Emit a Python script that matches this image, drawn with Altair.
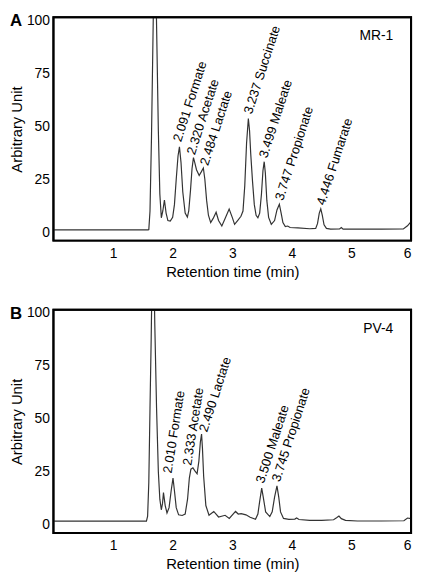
import altair as alt
import pandas as pd

FONT = "Liberation Sans"

# ---- Panel A (MR-1) trace ----
a_time = [0.00, 1.59, 1.60, 1.62, 1.645, 1.67, 1.70, 1.73, 1.76, 1.785, 1.81, 1.835, 1.862, 1.89, 1.92,
          1.96, 2.00, 2.03, 2.06, 2.09, 2.114, 2.14, 2.17, 2.21, 2.247, 2.27, 2.30, 2.325, 2.349, 2.37,
          2.40, 2.445, 2.48, 2.515, 2.54, 2.57, 2.60, 2.638, 2.68, 2.729, 2.77, 2.825, 2.88, 2.948, 3.00,
          3.039, 3.09, 3.146, 3.18, 3.21, 3.24, 3.27, 3.29, 3.31, 3.34, 3.37, 3.40, 3.43, 3.46, 3.49,
          3.515, 3.536, 3.555, 3.58, 3.61, 3.655, 3.71, 3.75, 3.79, 3.82, 3.85, 3.89, 3.93, 3.97, 4.10,
          4.30, 4.40, 4.43, 4.46, 4.485, 4.51, 4.54, 4.58, 4.65, 4.80, 4.83, 4.86, 5.50, 5.87, 5.94, 6.00]
a_signal = [1.1, 1.1, 1.2, 10, 45, 92, 150, 98, 48, 18, 6.8, 10, 15.2, 9, 5.5,
            5.2, 7, 13, 25, 36, 40.3, 33, 19, 9, 7.1, 10, 20, 30, 35.2, 33,
            29.5, 26.8, 28.5, 30.3, 25, 15, 8, 4.5, 6.5, 9.4, 5.5, 2.9, 6.5, 10.9, 7,
            3.7, 5.5, 7.5, 10, 22, 42, 53.7, 48, 37, 24, 13, 8, 6.8, 9, 18,
            29, 33.3, 28, 15, 7, 3.7, 5.5, 10.5, 13.2, 9, 4.5, 2.6, 2.9, 2.2, 2.0,
            1.6, 1.8, 4, 9, 11, 8, 3.5, 1.8, 1.4, 1.5, 2.2, 1.4, 1.4, 1.5, 3.0, 5.0]

a_labels = ["2.091 Formate", "2.320 Acetate", "2.484 Lactate", "3.237 Succinate",
            "3.499 Maleate", "3.747 Propionate", "4.446 Fumarate"]
a_label_time = [2.076, 2.306, 2.531, 3.264, 3.52, 3.788, 4.484]
a_label_height = [43, 36.8, 31.7, 56.0, 35.3, 15.2, 12.9]

# ---- Panel B (PV-4) trace ----
b_time = [0.00, 1.56, 1.58, 1.60, 1.62, 1.64, 1.67, 1.70, 1.73, 1.76, 1.785, 1.81, 1.83, 1.846, 1.875,
          1.905, 1.94, 1.975, 2.006, 2.03, 2.06, 2.10, 2.16, 2.21, 2.25, 2.28, 2.306, 2.34, 2.37, 2.41,
          2.44, 2.465, 2.485, 2.50, 2.52, 2.557, 2.61, 2.69, 2.77, 2.88, 2.95, 3.055, 3.10, 3.15, 3.23,
          3.30, 3.39, 3.43, 3.46, 3.494, 3.52, 3.56, 3.63, 3.67, 3.71, 3.75, 3.78, 3.81, 3.86, 3.95,
          4.05, 4.08, 4.12, 4.30, 4.50, 4.70, 4.75, 4.79, 4.83, 4.90, 5.10, 5.50, 5.88, 5.94, 6.00]
b_signal = [1.6, 1.6, 4, 20, 55, 88, 150, 95, 55, 25, 12, 7, 10, 15.1, 9,
            5.5, 8, 16, 22, 16, 8, 4.6, 4.3, 5, 12, 22, 26.2, 26.8, 25.5, 24,
            30, 39, 42.8, 36, 22.8, 9, 4.4, 6.2, 3.6, 4.4, 2.9, 6.2, 5.0, 5.2, 4.6,
            3.5, 2.5, 5, 11, 17.2, 13, 6, 3.8, 6, 13, 18.3, 13, 6, 2.9, 2.5,
            2.6, 3.1, 2.4, 2.0, 2.0, 2.3, 3.2, 4.0, 2.8, 2.0, 1.7, 1.7, 1.8, 3.1, 2.8]

b_labels = ["2.010 Formate", "2.333 Acetate", "2.490 Lactate", "3.500 Maleate", "3.745 Propionate"]
b_label_time = [1.915, 2.245, 2.515, 3.467, 3.735]
b_label_height = [24.3, 28.0, 44.0, 19.7, 20.5]

# labels drawn at a steeper slant in the original figure
steep_labels = ["2.010 Formate", "2.333 Acetate"]

x_ticks = [1, 2, 3, 4, 5, 6]
y_ticks = [0, 25, 50, 75, 100]

X_DOMAIN = [0, 6]
Y_DOMAIN = [-4, 101.5]

W = 362
H = 226


def panel(time, signal, labels, lt, lh, strain, letter):
    xs = alt.Scale(domain=X_DOMAIN, nice=False, zero=False)
    ys = alt.Scale(domain=Y_DOMAIN, nice=False, zero=False)
    xax = alt.Axis(values=x_ticks, title="Retention time (min)", ticks=False, domain=False,
                   grid=False, labelFontSize=14, titleFontSize=15, labelPadding=6,
                   titlePadding=4, titleFontWeight="normal", labelFont=FONT, titleFont=FONT,
                   labelColor="black", titleColor="black", labelFlush=True)
    yax = alt.Axis(values=y_ticks, title="Arbitrary Unit", ticks=False, domain=False,
                   grid=False, labelFontSize=14, titleFontSize=15, labelPadding=4,
                   titlePadding=2, titleFontWeight="normal", labelFont=FONT, titleFont=FONT,
                   labelColor="black", titleColor="black")
    enc_xy = dict(x=alt.X("t:Q", scale=xs, axis=xax), y=alt.Y("v:Q", scale=ys, axis=yax))

    df = pd.DataFrame({"t": time, "v": signal})
    line = alt.Chart(df).mark_line(color="#333333", strokeWidth=1.2, clip=True).encode(**enc_xy)

    # plot frame: closed outline along the scale-domain extents
    fdf = pd.DataFrame({
        "t": [X_DOMAIN[0], X_DOMAIN[1], X_DOMAIN[1], X_DOMAIN[0], X_DOMAIN[0]],
        "v": [Y_DOMAIN[0], Y_DOMAIN[0], Y_DOMAIN[1], Y_DOMAIN[1], Y_DOMAIN[0]],
        "k": [0, 1, 2, 3, 4],
    })
    frame = alt.Chart(fdf).mark_line(color="black", strokeWidth=2, strokeJoin="miter",
                                     strokeCap="square").encode(
        order="k:Q", **enc_xy)

    ldf = pd.DataFrame({"t": lt, "v": lh, "label": labels})
    text = alt.Chart(ldf).mark_text(angle=288, align="left", baseline="middle", fontSize=13,
                                    font=FONT, color="black").encode(
        text="label:N", **enc_xy).transform_filter(
        {"not": alt.FieldOneOfPredicate(field="label", oneOf=steep_labels)})
    text_steep = alt.Chart(ldf).mark_text(angle=279, align="left", baseline="middle", fontSize=13,
                                          font=FONT, color="black").encode(
        text="label:N", **enc_xy).transform_filter(
        alt.FieldOneOfPredicate(field="label", oneOf=steep_labels))
    sdf = pd.DataFrame({"s": [strain]})
    strain_t = alt.Chart(sdf).mark_text(align="right", baseline="middle", fontSize=14,
                                        font=FONT, color="black").encode(
        x=alt.value(W - 18), y=alt.value(19), text="s:N")
    ldf2 = pd.DataFrame({"s": [letter]})
    letter_t = alt.Chart(ldf2).mark_text(align="left", baseline="top", fontSize=17,
                                         fontWeight="bold", font=FONT, color="black").encode(
        x=alt.value(-44), y=alt.value(-4), text="s:N")
    return alt.layer(line, frame, text, text_steep, strain_t, letter_t).properties(width=W, height=H)


chart = alt.vconcat(
    panel(a_time, a_signal, a_labels, a_label_time, a_label_height, "MR-1", "A"),
    panel(b_time, b_signal, b_labels, b_label_time, b_label_height, "PV-4", "B"),
    spacing=24,
).properties(
    padding={"left": 0, "top": 0, "right": 1, "bottom": 0},
    background="white",
).configure_view(
    stroke="black", strokeWidth=2
)

chart.save("out.html", embed_options={"renderer": "svg", "actions": False})
